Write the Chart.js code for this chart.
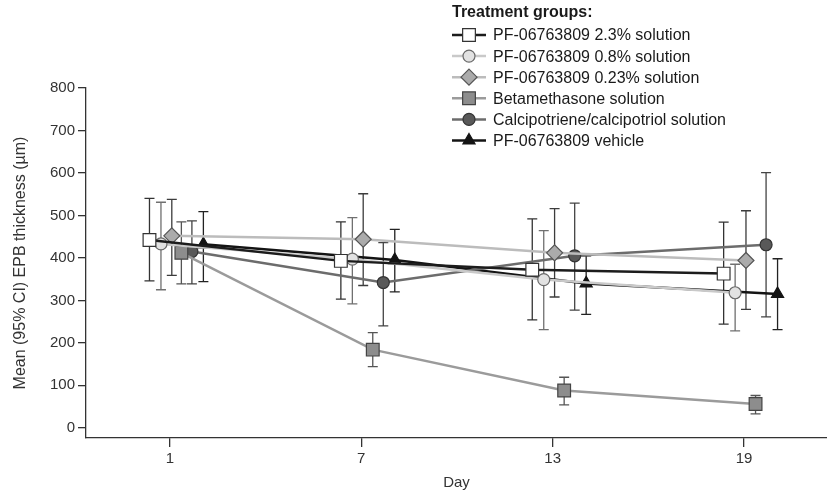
<!DOCTYPE html>
<html lang="en">
<head>
    <meta charset="UTF-8">
    <script src="https://cdn.jsdelivr.net/npm/chart.js"></script>
    <title>EPB thickness by treatment group</title>
    <style>
        body {
            margin: 0;
            padding: 0;
            background-color: white;
        }

        .container {
            width: 827px;
            height: 492px;
        }
    </style>
</head>
<body>

    <div class="container">
        <canvas id="myChart" width="827" height="492"></canvas>
    </div>

    <script>
        // values
        const days = [1, 7, 13, 19];
        const groupNames = [
            'PF-06763809 2.3% solution',
            'PF-06763809 0.8% solution',
            'PF-06763809 0.23% solution',
            'Betamethasone solution',
            'Calcipotriene/calcipotriol solution',
            'PF-06763809 vehicle'
        ];

        const pf23Mean = [442, 393, 372, 363];
        const pf23Low = [346, 303, 254, 244];
        const pf23High = [540, 485, 492, 484];

        const pf08Mean = [433, 397, 349, 318];
        const pf08Low = [325, 292, 231, 228];
        const pf08High = [531, 495, 464, 385];

        const pf023Mean = [452, 444, 412, 394];
        const pf023Low = [359, 335, 308, 279];
        const pf023High = [538, 551, 516, 511];

        const betaMean = [412, 184, 88, 56];
        const betaLow = [339, 144, 54, 33];
        const betaHigh = [485, 224, 119, 76];

        const calciMean = [415, 342, 405, 431];
        const calciLow = [339, 240, 277, 261];
        const calciHigh = [487, 436, 529, 601];

        const vehicleMean = [432, 395, 340, 315];
        const vehicleLow = [344, 320, 267, 231];
        const vehicleHigh = [509, 467, 405, 398];

        const yTicks = [0, 100, 200, 300, 400, 500, 600, 700, 800];

        // styling, one entry per group
        const dodge = [-0.64, -0.28, 0.06, 0.36, 0.69, 1.05];
        const lineColors = ['#1c1c1c', '#c9c9c9', '#bcbcbc', '#9b9b9b', '#6c6c6c', '#141414'];
        const fillColors = ['#ffffff', '#e2e2e2', '#ababab', '#8d8d8d', '#595959', '#141414'];
        const edgeColors = ['#333333', '#6a6a6a', '#555555', '#444444', '#333333', '#141414'];
        const barColors = ['#333333', '#707070', '#3c3c3c', '#555555', '#444444', '#222222'];
        const markers = ['rect', 'circle', 'rectRot', 'rect', 'circle', 'triangle'];
        const radii = [9, 6, 8, 9, 6, 7];

        const means = [pf23Mean, pf08Mean, pf023Mean, betaMean, calciMean, vehicleMean];
        const lows = [pf23Low, pf08Low, pf023Low, betaLow, calciLow, vehicleLow];
        const highs = [pf23High, pf08High, pf023High, betaHigh, calciHigh, vehicleHigh];

        const datasets = groupNames.map((name, i) => ({
            label: name,
            data: days.map((d, j) => ({ x: d + dodge[i], y: means[i][j] })),
            borderColor: lineColors[i],
            borderWidth: 2.5,
            backgroundColor: fillColors[i],
            pointStyle: markers[i],
            pointRadius: radii[i],
            pointBackgroundColor: fillColors[i],
            pointBorderColor: edgeColors[i],
            pointBorderWidth: 1.2,
            tension: 0
        }));

        // vertical CI bars with caps, drawn under lines and markers
        const errorBars = {
            id: 'errorBars',
            beforeDatasetsDraw(chart) {
                const ctx = chart.ctx;
                const xs = chart.scales.x;
                const ys = chart.scales.y;
                ctx.save();
                ctx.lineWidth = 1.3;
                groupNames.forEach((name, i) => {
                    ctx.strokeStyle = barColors[i];
                    days.forEach((d, j) => {
                        const x = xs.getPixelForValue(d + dodge[i]);
                        const yLo = ys.getPixelForValue(lows[i][j]);
                        const yHi = ys.getPixelForValue(highs[i][j]);
                        ctx.beginPath();
                        ctx.moveTo(x, yLo);
                        ctx.lineTo(x, yHi);
                        ctx.moveTo(x - 5, yLo);
                        ctx.lineTo(x + 5, yLo);
                        ctx.moveTo(x - 5, yHi);
                        ctx.lineTo(x + 5, yHi);
                        ctx.stroke();
                    });
                });
                ctx.restore();
            }
        };

        function drawMarker(ctx, style, x, y, r) {
            ctx.beginPath();
            if (style === 'rect') {
                const s = r * Math.SQRT1_2;
                ctx.rect(x - s, y - s, 2 * s, 2 * s);
            } else if (style === 'rectRot') {
                ctx.moveTo(x, y - r);
                ctx.lineTo(x + r, y);
                ctx.lineTo(x, y + r);
                ctx.lineTo(x - r, y);
                ctx.closePath();
            } else if (style === 'triangle') {
                ctx.moveTo(x, y - r);
                ctx.lineTo(x + r * 0.866, y + r * 0.5);
                ctx.lineTo(x - r * 0.866, y + r * 0.5);
                ctx.closePath();
            } else {
                ctx.arc(x, y, r, 0, Math.PI * 2);
            }
            ctx.fill();
            ctx.stroke();
        }

        // legend sits over the top right of the plot
        const groupLegend = {
            id: 'groupLegend',
            afterDraw(chart) {
                const ctx = chart.ctx;
                const left = 452;
                ctx.save();
                ctx.fillStyle = '#1a1a1a';
                ctx.textBaseline = 'middle';
                ctx.textAlign = 'left';
                ctx.font = 'bold 16px "Liberation Sans", Arial, sans-serif';
                ctx.fillText('Treatment groups:', left, 13);
                ctx.font = '16px "Liberation Sans", Arial, sans-serif';
                groupNames.forEach((name, i) => {
                    const y = 35 + i * 21.1;
                    ctx.strokeStyle = lineColors[i];
                    ctx.lineWidth = 2.5;
                    ctx.beginPath();
                    ctx.moveTo(left, y);
                    ctx.lineTo(left + 34, y);
                    ctx.stroke();
                    ctx.fillStyle = fillColors[i];
                    ctx.strokeStyle = edgeColors[i];
                    ctx.lineWidth = 1.2;
                    drawMarker(ctx, markers[i], left + 17, y, radii[i]);
                    ctx.fillStyle = '#1a1a1a';
                    ctx.fillText(name, left + 41, y + 1);
                });
                ctx.restore();
            }
        };

        const font = { family: '"Liberation Sans", Arial, sans-serif', size: 15 };
        const titleFont = { family: '"Liberation Sans", Arial, sans-serif', size: 16 };

        const chartConfig = {
            type: 'line',
            data: { datasets: datasets },
            options: {
                responsive: false,
                animation: false,
                layout: { autoPadding: false, padding: { top: 88, right: 0, bottom: 0, left: 0 } },
                plugins: {
                    legend: { display: false },
                    tooltip: { enabled: false }
                },
                scales: {
                    x: {
                        type: 'linear',
                        min: -1.63,
                        max: 21.6,
                        afterBuildTicks: axis => {
                            axis.ticks = days.map(v => ({ value: v }));
                        },
                        afterFit: axis => { axis.height = 54; },
                        grid: { drawOnChartArea: false, tickLength: 9, color: '#333', lineWidth: 1.3 },
                        border: { color: '#333', width: 1.3 },
                        ticks: { color: '#333', font: font, padding: 3 },
                        title: { display: true, text: 'Day', color: '#333', font: font, padding: { top: 2, bottom: 0 } }
                    },
                    y: {
                        min: -24,
                        max: 800,
                        afterBuildTicks: axis => {
                            axis.ticks = yTicks.map(v => ({ value: v }));
                        },
                        afterFit: axis => { axis.width = 86; },
                        grid: { drawOnChartArea: false, tickLength: 8, color: '#333', lineWidth: 1.3 },
                        border: { color: '#333', width: 1.3 },
                        ticks: { color: '#333', font: font, padding: 3 },
                        title: {
                            display: true,
                            text: 'Mean (95% CI) EPB thickness (µm)',
                            color: '#333',
                            font: titleFont,
                            padding: { top: 11, bottom: 0 }
                        }
                    }
                }
            },
            plugins: [errorBars, groupLegend]
        };

        var myChart = new Chart(
            document.getElementById('myChart'),
            chartConfig
        );
    </script>

</body>
</html>
